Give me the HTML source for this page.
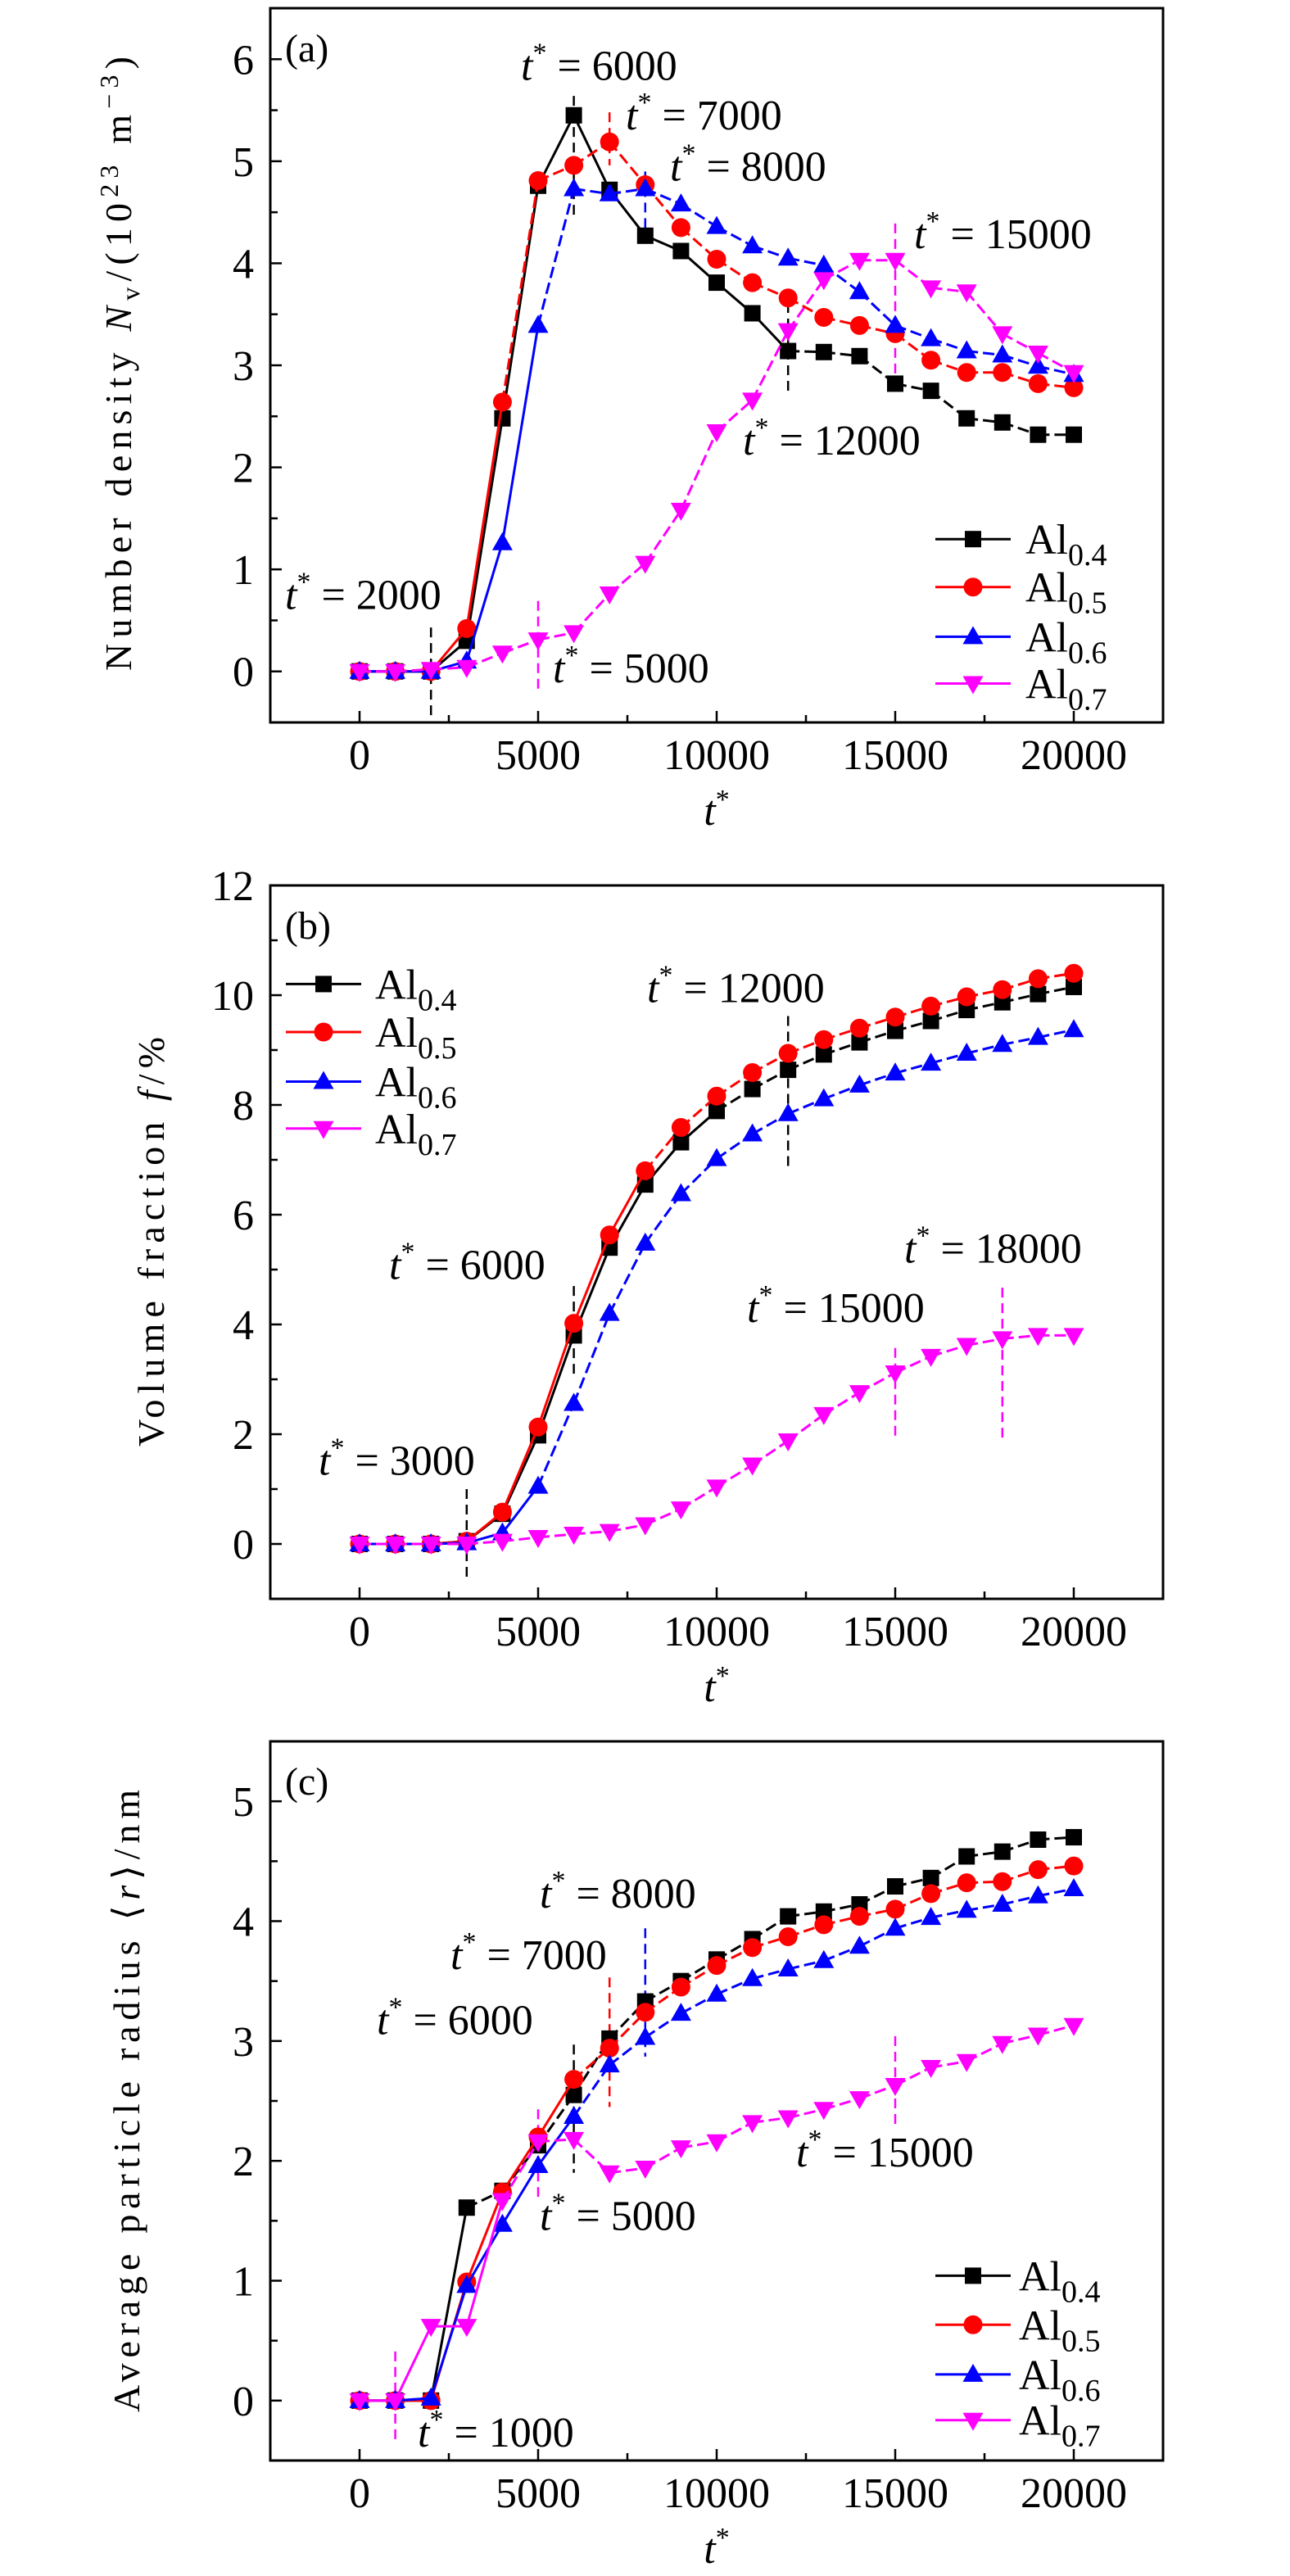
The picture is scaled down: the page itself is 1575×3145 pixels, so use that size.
<!DOCTYPE html>
<html><head><meta charset="utf-8"><title>Al precipitation kinetics</title>
<style>
html,body{margin:0;padding:0;background:#fff;}
svg, svg text{font-family:"Liberation Serif","DejaVu Serif",serif;}
</style></head>
<body>
<svg id="fig" width="1575" height="3140" viewBox="0 0 1575 3140" xmlns="http://www.w3.org/2000/svg" font-family="Liberation Serif, DejaVu Serif, serif"></svg>
<script>
// ---- data ----
const times = [0,1000,2000,3000,4000,5000,6000,7000,8000,9000,10000,11000,12000,13000,14000,15000,16000,17000,18000,19000,20000];
const seriesNames = ["Al0.4","Al0.5","Al0.6","Al0.7"];
// (a) number density
const densA04 = [0,0,0,0.30,2.48,4.76,5.45,4.72,4.27,4.12,3.81,3.51,3.14,3.13,3.09,2.82,2.75,2.48,2.44,2.32,2.32];
const densA05 = [0,0,0,0.42,2.64,4.81,4.96,5.19,4.77,4.35,4.04,3.81,3.66,3.47,3.39,3.31,3.05,2.93,2.93,2.82,2.78];
const densA06 = [0,0,0,0.10,1.26,3.39,4.73,4.68,4.73,4.58,4.36,4.17,4.05,3.98,3.72,3.39,3.26,3.14,3.10,2.99,2.91];
const densA07 = [0,0,0.02,0.04,0.18,0.31,0.38,0.76,1.06,1.58,2.35,2.66,3.34,3.84,4.03,4.03,3.76,3.72,3.31,3.12,2.93];
// (b) volume fraction
const fracB04 = [0,0,0,0.05,0.55,1.98,3.80,5.40,6.55,7.32,7.89,8.29,8.64,8.92,9.14,9.35,9.53,9.73,9.87,10.02,10.15];
const fracB05 = [0,0,0,0.05,0.58,2.13,4.02,5.63,6.80,7.59,8.16,8.59,8.94,9.19,9.40,9.60,9.80,9.97,10.10,10.30,10.40];
const fracB06 = [0,0,0,0.02,0.20,1.05,2.56,4.20,5.48,6.38,7.02,7.47,7.84,8.11,8.36,8.58,8.76,8.94,9.10,9.23,9.37];
const fracB07 = [0,0,0,0,0.05,0.12,0.18,0.23,0.35,0.64,1.04,1.44,1.88,2.36,2.76,3.12,3.42,3.62,3.74,3.80,3.80];
// (c) average radius
const radC04 = [0,0,0,1.61,1.75,2.13,2.55,3.02,3.33,3.50,3.68,3.85,4.04,4.08,4.14,4.29,4.36,4.54,4.58,4.68,4.70];
const radC05 = [0,0,0,0.99,1.74,2.20,2.68,2.94,3.24,3.45,3.63,3.78,3.87,3.97,4.04,4.10,4.23,4.32,4.33,4.43,4.46];
const radC06 = [0,0,0.02,0.96,1.47,1.96,2.37,2.80,3.03,3.23,3.39,3.52,3.60,3.67,3.79,3.94,4.03,4.09,4.14,4.21,4.27];
const radC07 = [0,0,0.62,0.62,1.67,2.16,2.18,1.90,1.94,2.11,2.16,2.32,2.36,2.43,2.52,2.63,2.78,2.83,2.98,3.05,3.13];
const xTicks = [0,5000,10000,15000,20000];
const xTickLabels = ["0","5000","10000","15000","20000"];
const yTicksA = [0,1,2,3,4,5,6];
const yTicksB = [0,2,4,6,8,10,12];
const yTicksC = [0,1,2,3,4,5];

const NS="http://www.w3.org/2000/svg";
const svg=document.getElementById('fig');
const FONT="Liberation Serif, DejaVu Serif, serif";
function mk(tag,attrs,parent){const e=document.createElementNS(NS,tag);for(const k in attrs)e.setAttribute(k,attrs[k]);if(tag==='text')e.setAttribute('font-family',FONT);(parent||svg).appendChild(e);return e;}
const colors=["#000000","#ff0000","#0000ff","#ff00ff"];
const markers=["square","circle","up","down"];
const X0=330,X1=1420,XMIN=-2500,XMAX=22500;
function xs(t){return X0+(t-XMIN)/(XMAX-XMIN)*(X1-X0);}

function drawMarker(g,kind,cx,cy,col){
  let m;
  if(kind==="square"){m=mk('rect',{x:cx-10,y:cy-10,width:20,height:20,fill:col},g);}
  else if(kind==="circle"){m=mk('circle',{cx:cx,cy:cy,r:11.5,fill:col},g);}
  else if(kind==="up"){m=mk('polygon',{points:`${cx},${cy-13} ${cx-12.5},${cy+9} ${cx+12.5},${cy+9}`,fill:col},g);}
  else {m=mk('polygon',{points:`${cx},${cy+13} ${cx-12.5},${cy-9} ${cx+12.5},${cy-9}`,fill:col},g);}
  return m;
}

function panel(cfg){
  const g=mk('g',{});
  
  
  const ys=v=>cfg.bottom-(v-cfg.ymin)/(cfg.ymax-cfg.ymin)*(cfg.bottom-cfg.top);
  const fr=mk('rect',{x:X0,y:cfg.top,width:X1-X0,height:cfg.bottom-cfg.top,fill:'none',stroke:'#000','stroke-width':3},g);
  
  
  xTicks.forEach((t,i)=>{
    const x=xs(t);
    mk('line',{x1:x,y1:cfg.bottom,x2:x,y2:cfg.bottom-14,stroke:'#000','stroke-width':2.5},g);
    const lb=mk('text',{x:x,y:cfg.bottom+57,'font-size':52,'text-anchor':'middle'},g);
    lb.textContent=xTickLabels[i];
    
    
    if(i<xTicks.length-1){const xm=xs(t+2500);mk('line',{x1:xm,y1:cfg.bottom,x2:xm,y2:cfg.bottom-9,stroke:'#000','stroke-width':2.5},g);}
  });
  cfg.yticks.forEach((v,i)=>{
    const y=ys(v);
    mk('line',{x1:X0,y1:y,x2:X0+14,y2:y,stroke:'#000','stroke-width':2.5},g);
    const lb=mk('text',{x:310,y:y+18,'font-size':52,'text-anchor':'end'},g);
    lb.textContent=String(v);
    
    
    const vm=v+cfg.minor;
    if(vm<cfg.ymax){const ym=ys(vm);if(ym>cfg.top)mk('line',{x1:X0,y1:ym,x2:X0+9,y2:ym,stroke:'#000','stroke-width':2.5},g);}
  });
  const xt=mk('text',{x:875,y:cfg.bottom+125,'font-size':52,'font-style':'italic','text-anchor':'middle'},g);
  xt.innerHTML='t<tspan font-style="normal" dy="-20" font-size="34">*</tspan>';
  
  
  const yt=mk('text',{transform:`translate(${cfg.ylabX},${cfg.ylabY}) rotate(-90)`,'font-size':46,'text-anchor':'middle',textLength:cfg.ylabLen,lengthAdjust:'spacing'},g);
  yt.innerHTML=cfg.ylabel;
  
  
  const pl=mk('text',{x:348,y:cfg.top+cfg.letterDy,'font-size':48},g);
  pl.textContent=cfg.letter;
  
  
  cfg.vlines.forEach(vl=>{
    const l=mk('line',{x1:xs(vl.t),y1:ys(vl.y1),x2:xs(vl.t),y2:ys(vl.y2),stroke:colors[vl.c],'stroke-width':2.5,'stroke-dasharray':'12,7'},g);
    
    
  });
  cfg.series.forEach((vals,s)=>{
    const sg=mk('g',{},g);
    
    
    for(let i=0;i<vals.length-1;i++){
      const a={stroke:colors[s],'stroke-width':3,x1:xs(times[i]),y1:ys(vals[i]),x2:xs(times[i+1]),y2:ys(vals[i+1])};
      if(i>=cfg.solidUntil[s])a['stroke-dasharray']='14,6';
      mk('line',a,sg);
    }
    vals.forEach((v,i)=>{
      const m=drawMarker(sg,markers[s],xs(times[i]),ys(v),colors[s]);
      
      
    });
  });
  cfg.notes.forEach(n=>{
    const tx=mk('text',{x:n.x,y:n.y,'font-size':52},g);
    tx.innerHTML='<tspan font-style="italic">t</tspan><tspan dy="-22" font-size="34">*</tspan><tspan dy="22"> = '+n.v+'</tspan>';
    
    
  });
  const lg=mk('g',{},g);
  
  
  cfg.legend.rows.forEach((ry,s)=>{
    const e=mk('g',{},lg);
    
    
    mk('line',{x1:cfg.legend.x1,y1:ry,x2:cfg.legend.x1+92,y2:ry,stroke:colors[s],'stroke-width':3},e);
    drawMarker(e,markers[s],cfg.legend.x1+46,ry,colors[s]);
    const t=mk('text',{x:cfg.legend.tx,y:ry+18,'font-size':52},e);
    t.innerHTML='Al<tspan dy="14" font-size="38">'+seriesNames[s].slice(2)+'</tspan>';
  });
}

const Y=(z,off)=>off+z*0.673;
panel({name:'panel-a-number-density',letter:'(a)',letterDy:65,top:10,bottom:882,ymin:-0.5,ymax:6.5,yticks:yTicksA,minor:0.5,
  ylabX:160,ylabY:444,ylabLen:750,
  ylabel:'Number density <tspan font-style="italic">N</tspan><tspan font-size="32" dy="10">v</tspan><tspan dy="-10">/(10</tspan><tspan font-size="32" dy="-16">23</tspan><tspan dy="16"> m</tspan><tspan font-size="32" dy="-16">−3</tspan><tspan dy="16">)</tspan>',
  series:[densA04,densA05,densA06,densA07],solidUntil:[12,4,5,0],
  vlines:[{t:6000,y1:5.64,y2:4.45,c:0},{t:7000,y1:5.48,y2:4.96,c:1},{t:8000,y1:4.9,y2:4.2,c:2},{t:15000,y1:4.39,y2:2.85,c:3},{t:12000,y1:3.61,y2:2.72,c:0},{t:2000,y1:0.43,y2:-0.44,c:0},{t:5000,y1:0.69,y2:-0.17,c:3}],
  notes:[{x:636,y:Y(145,0),v:'6000'},{x:764,y:Y(235,0),v:'7000'},{x:818,y:Y(328,0),v:'8000'},{x:1116,y:Y(450,0),v:'15000'},{x:907,y:Y(825,0),v:'12000'},{x:348,y:Y(1105,0),v:'2000'},{x:675,y:Y(1238,0),v:'5000'}],
  legend:{x1:1142,tx:1252,rows:[Y(978,0),Y(1065,0),Y(1155,0),Y(1240,0)]}
});
panel({name:'panel-b-volume-fraction',letter:'(b)',letterDy:65,top:1081,bottom:1952,ymin:-1,ymax:12,yticks:yTicksB,minor:1,
  ylabX:200,ylabY:1516,ylabLen:500,
  ylabel:'Volume fraction <tspan font-style="italic">f</tspan>/%',
  series:[fracB04,fracB05,fracB06,fracB07],solidUntil:[10,8,5,0],
  vlines:[{t:12000,y1:9.62,y2:6.83,c:0},{t:6000,y1:4.7,y2:3.1,c:0},{t:18000,y1:4.67,y2:1.9,c:3},{t:15000,y1:3.57,y2:1.96,c:3},{t:3000,y1:1.0,y2:-0.65,c:0}],
  notes:[{x:790,y:Y(258,1050),v:'12000'},{x:475,y:Y(760,1050),v:'6000'},{x:1104,y:Y(730,1050),v:'18000'},{x:912,y:Y(838,1050),v:'15000'},{x:389,y:Y(1115,1050),v:'3000'}],
  legend:{x1:349,tx:458,rows:[Y(225,1050),Y(312,1050),Y(402,1050),Y(487,1050)]}
});
panel({name:'panel-c-average-radius',letter:'(c)',letterDy:65,top:2126,bottom:3004,ymin:-0.5,ymax:5.5,yticks:yTicksC,minor:0.5,
  ylabX:170,ylabY:2565,ylabLen:760,
  ylabel:'Average particle radius ⟨<tspan font-style="italic">r</tspan>⟩/nm',
  series:[radC04,radC05,radC06,radC07],solidUntil:[3,6,6,4],
  vlines:[{t:8000,y1:3.94,y2:2.87,c:2},{t:7000,y1:3.53,y2:2.45,c:1},{t:6000,y1:2.97,y2:1.9,c:0},{t:5000,y1:2.43,y2:1.7,c:3},{t:15000,y1:3.04,y2:2.29,c:3},{t:1000,y1:0.41,y2:-0.34,c:3}],
  notes:[{x:659,y:Y(340,2100),v:'8000'},{x:550,y:Y(452,2100),v:'7000'},{x:460,y:Y(570,2100),v:'6000'},{x:659,y:Y(925,2100),v:'5000'},{x:972,y:Y(810,2100),v:'15000'},{x:510,y:Y(1318,2100),v:'1000'}],
  legend:{x1:1142,tx:1244,rows:[Y(1008,2100),Y(1097,2100),Y(1187,2100),Y(1270,2100)]}
});
</script>
</body></html>
